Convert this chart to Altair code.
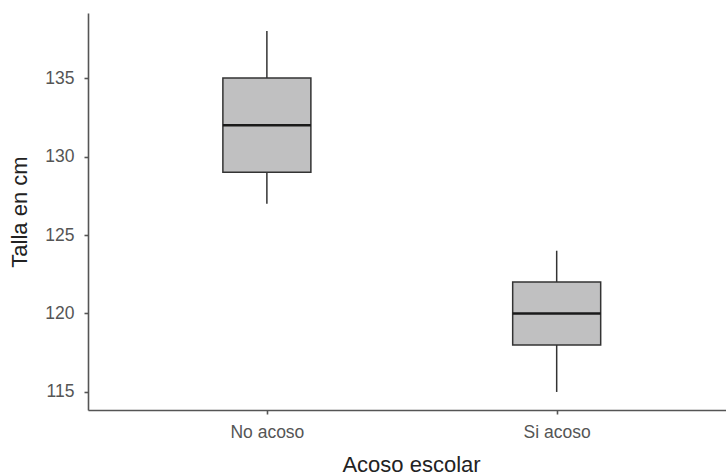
import json
import altair as alt
import pandas as pd

# Five-number summaries of height (cm) by bullying group
categories = ["No acoso", "Si acoso"]
whisker_low = [127, 115]
q1 = [129, 118]
median = [132, 120]
q3 = [135, 122]
whisker_high = [138, 124]

df = pd.DataFrame({
    "grupo": categories,
    "pos": list(range(1, len(categories) + 1)),
    "ymin": whisker_low,
    "q1": q1,
    "med": median,
    "q3": q3,
    "ymax": whisker_high,
})

label_expr = f"{json.dumps(categories)}[datum.value - 1]"

x_enc = alt.X(
    "pos:Q",
    scale=alt.Scale(domain=[0.4, 2.567], nice=False, zero=False),
    axis=alt.Axis(values=[1, 2], labelExpr=label_expr, title="Acoso escolar",
                  labelPadding=9, titlePadding=14, titleX=323),
)
y_scale = alt.Scale(domain=[113.85, 139.15], nice=False, zero=False)
y_axis = alt.Axis(values=[115, 120, 125, 130, 135], title="Talla en cm",
                  labelPadding=10, titlePadding=13)

base = alt.Chart(df)

whiskers = base.mark_rule(color="#333333", strokeWidth=1.5).encode(
    x=x_enc,
    y=alt.Y("ymin:Q", scale=y_scale, axis=y_axis),
    y2="ymax:Q",
)

boxes = base.mark_bar(size=88, fill="#c0c0c1", stroke="#333333",
                      strokeWidth=1.5).encode(
    x=x_enc,
    y=alt.Y("q1:Q", scale=y_scale, axis=y_axis),
    y2="q3:Q",
)

medians = base.mark_tick(orient="horizontal", size=88, thickness=2.6,
                         color="#1a1a1a", opacity=1).encode(
    x=x_enc,
    y=alt.Y("med:Q", scale=y_scale, axis=y_axis),
)

chart = (
    alt.layer(whiskers, boxes, medians)
    .properties(
        width=638,
        height=397,
        autosize=alt.AutoSizeParams(type="none"),
        padding={"left": 88, "top": 13, "right": 0, "bottom": 66},
        background="white",
    )
    .configure_view(stroke=None)
    .configure_axis(
        grid=False,
        domainColor="#555555",
        domainWidth=1.6,
        tickColor="#555555",
        tickWidth=1.6,
        tickSize=4,
        labelColor="#555555",
        labelFont="Liberation Sans",
        labelFontSize=17.5,
        titleFont="Liberation Sans",
        titleFontSize=22,
        titleFontWeight="normal",
        titleColor="#222222",
    )
)

chart.save("out.html", embed_options={"renderer": "svg", "actions": False})
